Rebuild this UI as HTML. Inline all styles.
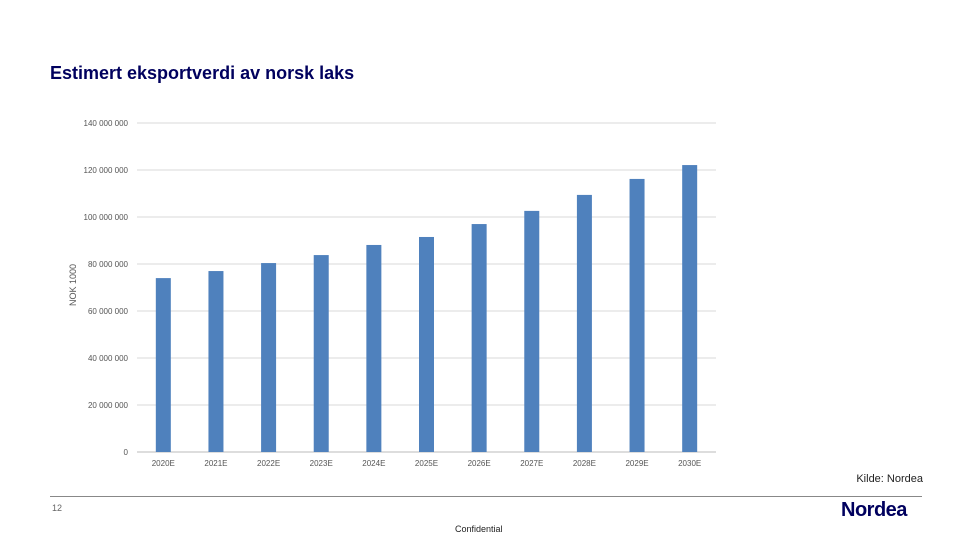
<!DOCTYPE html>
<html><head><meta charset="utf-8"><style>
body{margin:0;width:960px;height:540px;background:#fff;font-family:"Liberation Sans",sans-serif;position:relative;overflow:hidden}
.t{position:absolute}
</style></head><body>
<div class="t" style="left:50px;top:63px;font-size:18px;font-weight:bold;color:#00005e">Estimert eksportverdi av norsk laks</div>
<svg class="t" style="left:0;top:0" width="960" height="540">
<g id="grid"></g><g id="bars"></g><g id="labels"></g>
<text x="76" y="285" font-size="9" fill="#555" text-anchor="middle" transform="rotate(-90 76 285)">NOK 1000</text>
</svg>
<div class="t" style="right:37px;top:473px;font-size:11px;color:#222">Kilde: Nordea</div>
<div class="t" style="left:50px;top:496px;width:872px;height:1px;background:#888"></div>
<div class="t" style="left:52px;top:503px;font-size:9px;color:#666">12</div>
<div class="t" style="left:841px;top:499px;font-size:20px;font-weight:bold;color:#00005e;letter-spacing:-0.5px">Nordea</div>
<div class="t" style="left:455px;top:524px;font-size:9px;color:#222">Confidential</div>
<script>
const categories=["2020E","2021E","2022E","2023E","2024E","2025E","2026E","2027E","2028E","2029E","2030E"];
const values=[74.0,77.0,80.4,83.8,88.1,91.5,97.0,102.6,109.4,116.2,122.1];
const yTicks=[0,20,40,60,80,100,120,140];
const yTickLabels=["0","20 000 000","40 000 000","60 000 000","80 000 000","100 000 000","120 000 000","140 000 000"];
const NS="http://www.w3.org/2000/svg";
const x0=137,x1=716,yB=452,yT=123,yMax=140;
const y=v=>yB-(v/yMax)*(yB-yT);
const step=(x1-x0)/categories.length;
const xc=i=>x0+step*(i+0.5);
function mk(t,a,p){const e=document.createElementNS(NS,t);for(const k in a)e.setAttribute(k,a[k]);p.appendChild(e);return e;}
const g=document.getElementById('grid'),b=document.getElementById('bars'),l=document.getElementById('labels');
yTicks.forEach((v,i)=>{
 const ln=mk('line',{x1:x0,x2:x1,y1:y(v),y2:y(v),stroke:v===0?'#bbb':'#d9d9d9','stroke-width':1},g);
 
 
 const tx=mk('text',{x:128,y:y(v)+3,'font-size':8,fill:'#555','text-anchor':'end'},g);
 tx.textContent=yTickLabels[i];
 
 
});
categories.forEach((c,i)=>{
 const r=mk('rect',{x:xc(i)-7.5,y:y(values[i]),width:15,height:yB-y(values[i]),fill:'#4f81bd'},b);
 
 
 const tx=mk('text',{x:xc(i),y:466,'font-size':8,fill:'#555','text-anchor':'middle'},l);
 tx.textContent=c;
 
 
});
</script>
</body></html>
